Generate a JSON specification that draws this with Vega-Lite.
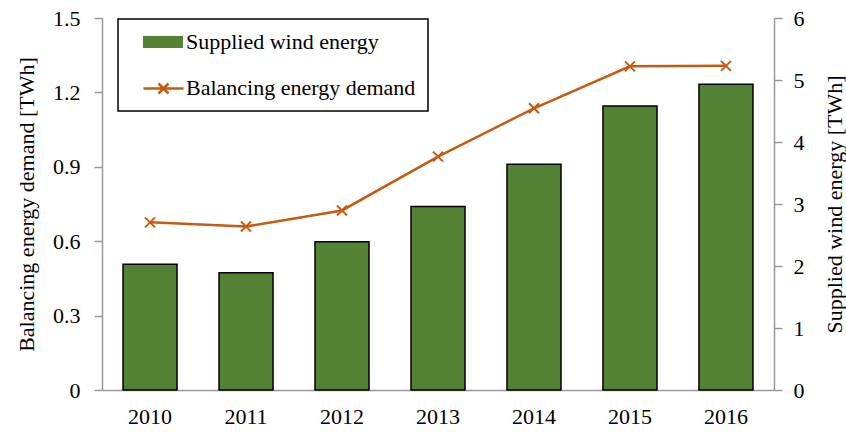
{
  "$schema": "https://vega.github.io/schema/vega-lite/v6.json",
  "width": 672,
  "height": 372,
  "autosize": "none",
  "padding": {"left": 102, "top": 18, "right": 72, "bottom": 42},
  "data": {
    "values": [
      {"year": "2010", "wind": 2.03, "balancing": 0.676},
      {"year": "2011", "wind": 1.89, "balancing": 0.659},
      {"year": "2012", "wind": 2.39, "balancing": 0.724},
      {"year": "2013", "wind": 2.96, "balancing": 0.941},
      {"year": "2014", "wind": 3.64, "balancing": 1.136},
      {"year": "2015", "wind": 4.58, "balancing": 1.305},
      {"year": "2016", "wind": 4.93, "balancing": 1.307}
    ]
  },
  "config": {
    "view": {"stroke": null},
    "font": "Liberation Serif",
    "axis": {
      "domainColor": "#999999",
      "domainWidth": 1.5,
      "tickColor": "#999999",
      "tickWidth": 1.5,
      "tickSize": 8,
      "grid": false,
      "labelColor": "black",
      "titleColor": "black",
      "titleFontWeight": "normal",
      "labelFontSize": 22,
      "titleFontSize": 22,
      "labelFont": "Liberation Serif",
      "titleFont": "Liberation Serif"
    },
    "legend": {
      "labelFont": "Liberation Serif",
      "labelFontSize": 22,
      "labelColor": "black",
      "labelLimit": 400,
      "strokeWidth": 1.5
    }
  },
  "encoding": {
    "x": {
      "field": "year",
      "type": "ordinal",
      "scale": {"paddingInner": 0.4375, "paddingOuter": 0.219},
      "axis": {"title": null, "labelAngle": 0, "ticks": false, "labelPadding": 16}
    }
  },
  "layer": [
    {
      "encoding": {
        "y": {
          "field": "wind",
          "type": "quantitative",
          "scale": {"domain": [0, 6], "nice": false},
          "axis": {
            "orient": "right",
            "title": "Supplied wind energy [TWh]",
            "values": [0, 1, 2, 3, 4, 5, 6],
            "labelPadding": 11,
            "titlePadding": 20,
            "titleAngle": 270,
            "titleBaseline": "top"
          }
        }
      },
      "layer": [
        {
          "mark": {"type": "bar"},
          "encoding": {
            "fill": {
              "datum": "Supplied wind energy",
              "type": "nominal",
              "scale": {
                "domain": ["Supplied wind energy", "Balancing energy demand"],
                "range": ["#548235", "transparent"]
              },
              "legend": {
                "orient": "none",
                "direction": "vertical",
                "legendX": 16,
                "legendY": 1,
                "title": null,
                "padding": 12,
                "rowPadding": 24,
                "strokeColor": "black",
                "fillColor": "white",
                "symbolType": "M0.2,-0.6H4.2V0.6H0.2Z",
                "symbolSize": 400,
                "symbolStrokeColor": "transparent",
                "symbolStrokeWidth": 0,
                "symbolOpacity": 1,
                "labelOffset": 34
              }
            }
          }
        },
        {
          "mark": {"type": "bar", "fill": "transparent", "stroke": "black", "strokeWidth": 1.5}
        }
      ]
    },
    {
      "layer": [
        {
          "mark": {"type": "line", "strokeWidth": 2.5},
          "encoding": {
            "y": {
              "field": "balancing",
              "type": "quantitative",
              "scale": {"domain": [0, 1.5], "nice": false},
              "axis": {
                "orient": "left",
                "title": "Balancing energy demand [TWh]",
                "values": [0, 0.3, 0.6, 0.9, 1.2, 1.5],
                "format": ".2~f",
                "labelPadding": 14,
                "titlePadding": 14
              }
            },
            "stroke": {
              "datum": "Balancing energy demand",
              "type": "nominal",
              "scale": {"domain": ["Balancing energy demand"], "range": ["#C55A11"]},
              "legend": {
                "orient": "none",
                "direction": "vertical",
                "legendX": 28,
                "legendY": 59,
                "title": null,
                "padding": 0,
                "labelExpr": "''",
                "symbolType": "M0.2,0H4.2M1.7,-0.5L2.7,0.5M1.7,0.5L2.7,-0.5",
                "symbolSize": 400,
                "symbolStrokeWidth": 2.5,
                "symbolFillColor": "transparent",
                "symbolOpacity": 1
              }
            }
          }
        },
        {
          "mark": {"type": "point", "shape": "M-1,-1L1,1M-1,1L1,-1", "size": 100, "filled": false, "strokeWidth": 2, "opacity": 1},
          "encoding": {
            "y": {"field": "balancing", "type": "quantitative"},
            "stroke": {"datum": "Balancing energy demand", "type": "nominal"}
          }
        }
      ]
    }
  ],
  "resolve": {"scale": {"y": "independent"}}
}
